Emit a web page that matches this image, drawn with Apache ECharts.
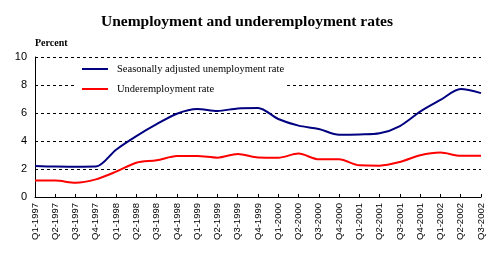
<!DOCTYPE html>
<html><head><meta charset="utf-8">
<script src="https://cdn.jsdelivr.net/npm/echarts@6/dist/echarts.min.js"></script>
<style>html,body{margin:0;padding:0;background:#fff}#c{width:494px;height:259px}</style>
</head><body><div id="c"></div>
<script>
const categories = ['Q1-1997','Q2-1997','Q3-1997','Q4-1997','Q1-1998','Q2-1998','Q3-1998','Q4-1998','Q1-1999','Q2-1999','Q3-1999','Q4-1999','Q1-2000','Q2-2000','Q3-2000','Q4-2000','Q1-2001','Q2-2001','Q3-2001','Q4-2001','Q1-2002','Q2-2002','Q3-2002'];
const unemployment = [2.22,2.17,2.16,2.17,3.38,4.35,5.2,5.95,6.28,6.14,6.33,6.36,5.57,5.1,4.86,4.45,4.47,4.55,5.07,6.1,6.93,7.71,7.42];
const underemployment = [1.17,1.17,1.02,1.26,1.81,2.45,2.62,2.92,2.93,2.81,3.07,2.83,2.81,3.1,2.69,2.69,2.26,2.24,2.5,2.98,3.17,2.95,2.95];
const yTicks = {min:0, max:10, interval:2};

const chart = echarts.init(document.getElementById('c'), null, {renderer:'canvas'});
chart.setOption({
  animation:false,
  backgroundColor:'#fff',
  title:{text:'Unemployment and underemployment rates',left:'center',top:9,
    textStyle:{fontFamily:'Liberation Serif',fontWeight:'bold',fontSize:15.5,color:'#000'}},
  graphic:[{type:'text',left:35,top:38,style:{text:'Percent',fontFamily:'Liberation Serif',fontWeight:'bold',fontSize:10,fill:'#000'}}],
  legend:{orient:'vertical',left:75,top:59,padding:[3,3,3,7],backgroundColor:'#fff',
    itemWidth:26,itemHeight:2,itemGap:6,icon:'rect',
    textStyle:{fontFamily:'Liberation Serif',fontSize:10.5,color:'#000',lineHeight:14,padding:[0,0,0,4]},
    data:['Seasonally adjusted unemployment rate','Underemployment rate']},
  grid:{left:35,right:13,top:57,bottom:62,containLabel:false},
  xAxis:{type:'category',data:categories,boundaryGap:false,
    axisLine:{lineStyle:{color:'#000',width:1}},
    axisTick:{inside:true,length:3,lineStyle:{color:'#000'},alignWithLabel:true,interval:0},
    axisLabel:{rotate:90,interval:0,fontFamily:'Liberation Sans',fontSize:9.5,color:'#000',margin:6}},
  yAxis:{type:'value',min:yTicks.min,max:yTicks.max,interval:yTicks.interval,
    axisLine:{show:true,lineStyle:{color:'#000',width:1}},
    axisTick:{show:false},
    axisLabel:{fontFamily:'Liberation Sans',fontSize:11,color:'#000',margin:8},
    splitLine:{lineStyle:{color:'#000',type:[3,3],width:1}}},
  series:[
    {name:'Seasonally adjusted unemployment rate',type:'line',data:unemployment,smooth:0.3,showSymbol:false,
      itemStyle:{color:'#000080'},lineStyle:{color:'#000080',width:2}},
    {name:'Underemployment rate',type:'line',data:underemployment,smooth:0.3,showSymbol:false,
      itemStyle:{color:'#ff0000'},lineStyle:{color:'#ff0000',width:2}}
  ]
});
</script></body></html>
